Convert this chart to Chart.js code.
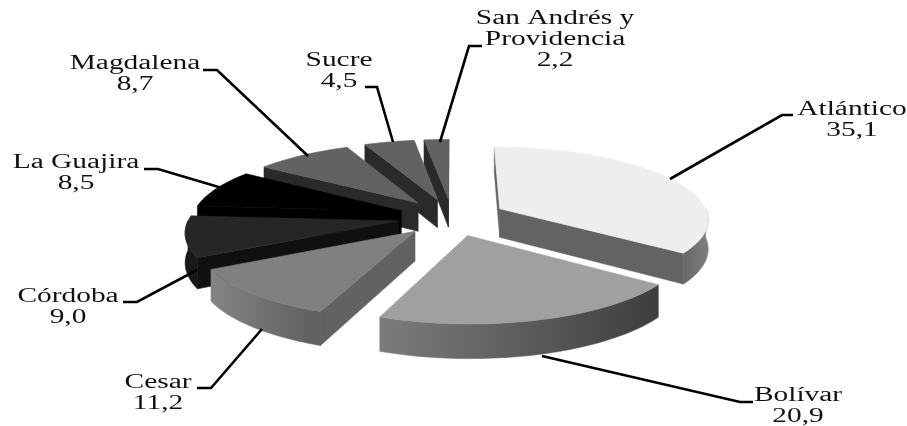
<!DOCTYPE html>
<html>
<head>
<meta charset="utf-8">
<style>
  html, body { margin: 0; padding: 0; background: #fff; }
  canvas { display: block; }
</style>
<script src="https://cdn.jsdelivr.net/npm/chart.js@4"></script>
</head>
<body>
<canvas id="pie" width="907" height="426"></canvas>
<script>
const categories = ["Atlántico", "Bolívar", "Cesar", "Córdoba", "La Guajira", "Magdalena", "Sucre", "San Andrés y Providencia"];
const values = [35.1, 20.9, 11.2, 9.0, 8.5, 8.7, 4.5, 2.2];

const topColors = ["#eeeeee", "#a0a0a0", "#808080", "#262626", "#000000", "#626262", "#626262", "#626262"];
const cutColors = ["#636363", "#6a6a6a", "#626262", "#101010", "#000000", "#2a2a2a", "#2a2a2a", "#2a2a2a"];
const wallLeft = ["#666666", "#7c7c7c", "#848484", "#181818", "#000000", "#2a2a2a", "#2a2a2a", "#2a2a2a"];
const wallRight = ["#808080", "#3e3e3e", "#5e5e5e", "#181818", "#000000", "#2a2a2a", "#2a2a2a", "#2a2a2a"];

// label lines (split for drawing) and where they go
const labelLines = [["Atlántico"], ["Bolívar"], ["Cesar"], ["Córdoba"], ["La Guajira"], ["Magdalena"], ["Sucre"], ["San Andrés y", "Providencia"]];
const labelPos = [[852, 115], [798, 401], [158, 388], [68, 302], [76, 168], [135, 69], [339, 66], [555, 24]];
const leaders = [
    [[793, 115], [782, 115], [670, 179]],
    [[753, 402], [740, 402], [542, 356]],
    [[197, 388], [211, 388], [262, 329]],
    [[123, 302], [137, 302], [197, 270]],
    [[144, 169], [158, 169], [222, 188]],
    [[203, 70], [217, 70], [308, 156]],
    [[365, 87], [377, 87], [393, 142]],
    [[482, 46], [469, 46], [440, 142]]
];

// fake 3D: the arcs come from chart.js, this just projects them
const squash = 0.343, persp = 0.13, explode = 0.26, depth = 29;

const pie3d = {
    id: "pie3d",
    beforeDatasetsDraw(chart) {
        const ctx = chart.ctx;
        const arcs = chart.getDatasetMeta(0).data;

        const order = arcs.map((a, i) => i).sort((p, q) => {
            return Math.sin((arcs[p].startAngle + arcs[p].endAngle) / 2) - Math.sin((arcs[q].startAngle + arcs[q].endAngle) / 2);
        });

        order.forEach(i => {
            const arc = arcs[i];
            const mid = (arc.startAngle + arc.endAngle) / 2;
            const ex = Math.cos(mid) * explode, ey = Math.sin(mid) * explode;
            const R = arc.outerRadius;

            const project = (u, v, drop) => {
                const s = 1 / (1 - persp * (v + ey));
                return [arc.x + R * (u + ex) * s, arc.y + R * squash * (v + ey) * s + (drop ? depth * s : 0)];
            };
            const rim = (from, to, drop) => {
                const pts = [];
                const n = Math.max(2, Math.ceil((to - from) * 40));
                for (let k = 0; k <= n; k++) {
                    const a = from + (to - from) * k / n;
                    pts.push(project(Math.cos(a), Math.sin(a), drop));
                }
                return pts;
            };
            const fill = (pts, color) => {
                ctx.beginPath();
                pts.forEach((p, k) => k ? ctx.lineTo(p[0], p[1]) : ctx.moveTo(p[0], p[1]));
                ctx.closePath();
                ctx.fillStyle = color;
                ctx.strokeStyle = color;
                ctx.lineWidth = 0.6;
                ctx.fill();
                ctx.stroke();
            };

            const start = arc.startAngle, end = arc.endAngle;
            const apex = project(0, 0, false), apexLow = project(0, 0, true);
            const p0 = project(Math.cos(start), Math.sin(start), false);
            const p0Low = project(Math.cos(start), Math.sin(start), true);
            const p1 = project(Math.cos(end), Math.sin(end), false);
            const p1Low = project(Math.cos(end), Math.sin(end), true);

            // cut faces, only those turned toward the viewer
            if (p0[0] < apex[0]) fill([apex, p0, p0Low, apexLow], cutColors[i]);
            if (p1[0] > apex[0]) fill([apex, p1, p1Low, apexLow], cutColors[i]);

            // outer wall, front half of the circle only
            const from = Math.max(start, 0), to = Math.min(end, Math.PI);
            if (to > from) {
                const upper = rim(from, to, false), lower = rim(from, to, true);
                const xs = upper.map(p => p[0]);
                const grad = ctx.createLinearGradient(Math.min(...xs), 0, Math.max(...xs), 0);
                grad.addColorStop(0, wallLeft[i]);
                grad.addColorStop(1, wallRight[i]);
                fill(upper.concat(lower.reverse()), grad);
            }

            fill([apex].concat(rim(start, end, false)), topColors[i]);
        });
        return false;
    },
    afterDraw(chart) {
        const ctx = chart.ctx;

        ctx.strokeStyle = "#000";
        ctx.lineWidth = 2.6;
        ctx.lineJoin = "miter";
        leaders.forEach(line => {
            ctx.beginPath();
            line.forEach((p, k) => k ? ctx.lineTo(p[0], p[1]) : ctx.moveTo(p[0], p[1]));
            ctx.stroke();
        });

        ctx.fillStyle = "#111";
        ctx.font = '20px "Liberation Serif"';
        ctx.textAlign = "center";
        ctx.textBaseline = "alphabetic";
        categories.forEach((c, i) => {
            const rows = labelLines[i].concat(values[i].toFixed(1).replace(".", ","));
            rows.forEach((row, r) => {
                ctx.save();
                ctx.translate(labelPos[i][0], labelPos[i][1] + r * 21);
                ctx.scale(1.47, 1);
                ctx.fillText(row, 0, 0);
                ctx.restore();
            });
        });
    }
};

new Chart(document.getElementById("pie"), {
    type: "pie",
    data: {
        labels: categories,
        datasets: [{ data: values, borderWidth: 0 }]
    },
    options: {
        responsive: false,
        animation: false,
        layout: { padding: { top: 8, right: 3 } },
        plugins: { legend: { display: false }, tooltip: { enabled: false } }
    },
    plugins: [pie3d]
});
</script>
</body>
</html>
